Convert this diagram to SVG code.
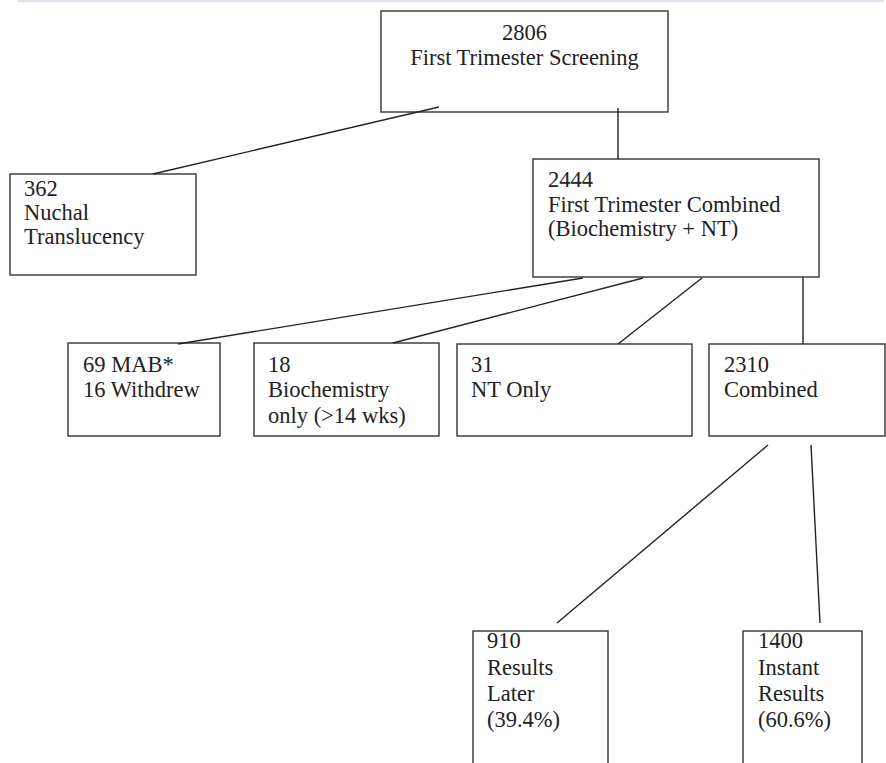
<svg xmlns="http://www.w3.org/2000/svg" width="886" height="763" viewBox="0 0 886 763">
<style>
.box{fill:#fff;stroke:#333;stroke-width:1.4}
.ln{stroke:#222;stroke-width:1.4;fill:none}
text{font-family:"Liberation Serif","Times New Roman",serif;font-size:22.5px;fill:#222}
</style>
<rect x="0" y="0" width="886" height="763" fill="#fff"/>
<line x1="18" y1="1" x2="884" y2="1" stroke="#dde3ea" stroke-width="2.5"/>
<g id="n2806">
<rect class="box" x="381" y="11" width="287" height="101"/>
<text x="524.5" y="40" text-anchor="middle">2806</text>
<text x="524.5" y="65" text-anchor="middle">First Trimester Screening</text>
</g>
<g id="n362">
<rect class="box" x="10" y="174" width="186" height="101"/>
<text x="24" y="196">362</text>
<text x="24" y="220">Nuchal</text>
<text x="24" y="244">Translucency</text>
</g>
<g id="n2444">
<rect class="box" x="533" y="159" width="286" height="118"/>
<text x="548" y="187">2444</text>
<text x="548" y="212">First Trimester Combined</text>
<text x="548" y="236">(Biochemistry + NT)</text>
</g>
<g id="n69">
<rect class="box" x="68" y="343" width="152" height="93"/>
<text x="83" y="372">69 MAB*</text>
<text x="83" y="397">16 Withdrew</text>
</g>
<g id="n18">
<rect class="box" x="254" y="343" width="185" height="93"/>
<text x="268" y="372">18</text>
<text x="268" y="397">Biochemistry</text>
<text x="268" y="423">only (&gt;14 wks)</text>
</g>
<g id="n31">
<rect class="box" x="457" y="344" width="235" height="92"/>
<text x="471" y="372">31</text>
<text x="471" y="397">NT Only</text>
</g>
<g id="n2310">
<rect class="box" x="709" y="344" width="176" height="92"/>
<text x="724" y="372">2310</text>
<text x="724" y="397">Combined</text>
</g>
<g id="n910">
<rect class="box" x="473" y="631" width="135" height="140"/>
<text x="487" y="648">910</text>
<text x="487" y="675">Results</text>
<text x="487" y="701">Later</text>
<text x="487" y="727">(39.4%)</text>
</g>
<g id="n1400">
<rect class="box" x="743" y="631" width="119" height="140"/>
<text x="758" y="648">1400</text>
<text x="758" y="675">Instant</text>
<text x="758" y="701">Results</text>
<text x="758" y="727">(60.6%)</text>
</g>
<g id="connectors">
<line class="ln" x1="439" y1="107" x2="153" y2="174"/>
<line class="ln" x1="618" y1="108" x2="618" y2="159"/>
<line class="ln" x1="583" y1="278" x2="178" y2="344"/>
<line class="ln" x1="643" y1="278" x2="393" y2="343"/>
<line class="ln" x1="702" y1="278" x2="618" y2="344"/>
<line class="ln" x1="803" y1="277" x2="803" y2="344"/>
<line class="ln" x1="768" y1="445" x2="557" y2="623"/>
<line class="ln" x1="811" y1="445" x2="820" y2="623"/>
</g>
</svg>
